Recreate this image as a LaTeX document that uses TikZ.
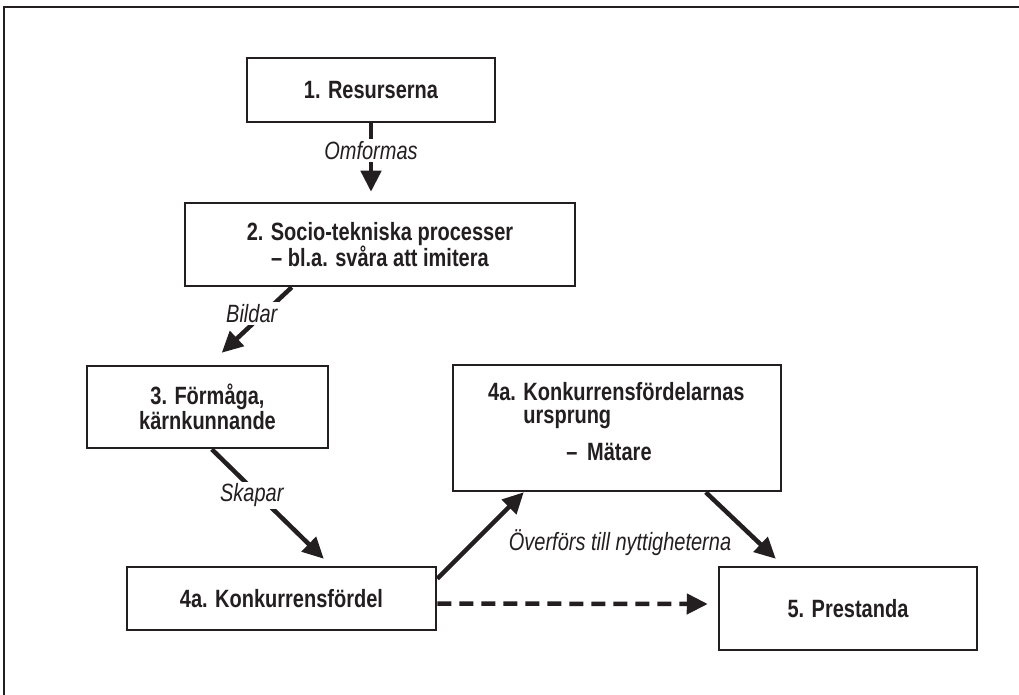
\documentclass[tikz,border=0pt]{standalone}
\usepackage{fontspec}
\setmainfont{Liberation Sans}[FakeStretch=0.8]
\usetikzlibrary{arrows.meta,calc}
\definecolor{ink}{RGB}{35,31,32}
\begin{document}
\begin{tikzpicture}[x=1pt,y=-1pt,
  box/.style={draw=ink,line width=2.5pt,fill=white,inner sep=0pt,align=center,
    font=\fontsize{25}{25}\selectfont\bfseries,text=ink},
  txt/.style={inner sep=0pt,font=\fontsize{25}{25}\selectfont\bfseries,text=ink},
  arr/.style={draw=ink,line width=4.5pt,-{Triangle[length=21pt,width=20pt]}},
  lbl/.style={font=\fontsize{25}{25}\selectfont\itshape,text=ink,fill=white,inner sep=2pt},
  plainlbl/.style={font=\fontsize{25}{25}\selectfont\itshape,text=ink,inner sep=0pt}]
\useasboundingbox (0,0) rectangle (1019,695);
\fill[white] (0,0) rectangle (1019,695);
\draw[ink,line width=2pt] (4,695) -- (4,7) -- (1019,7);

\node[box,minimum width=248pt,minimum height=64pt] (b1) at (371,90) {1. Resurserna};
\node[box,minimum width=390pt,minimum height=83pt] (b2) at (380,244.5) {2. Socio-tekniska processer\\– bl.a. svåra att imitera};
\node[box,minimum width=241pt,minimum height=82pt] (b3) at (207.5,407) {3. Förmåga,\\kärnkunnande};
\node[box,minimum width=309pt,minimum height=63pt] (b4) at (281.5,598.5) {4a. Konkurrensfördel};
\node[box,minimum width=328pt,minimum height=126pt] (b4o) at (617,428) {};
\node[txt,anchor=base west] (t4o) at (488,400) {\begin{tabular}[t]{@{}l@{ }l@{}}4a. & Konkurrensfördelarnas\\[-2pt] & ursprung\end{tabular}};
\node[txt,anchor=base] (t4m) at (609,460) {–\, Mätare};
\node[box,minimum width=258pt,minimum height=83pt] (b5) at (848,608.5) {5. Prestanda};

\draw[arr] (b1.south) -- node[lbl,pos=0.4]{Omformas} ($(b1.south |- b2.north)+(0,-10)$);
\draw[arr] ($(b2.south west)+(108,0)$) -- node[lbl,pos=0.4,xshift=-12pt]{Bildar} ($(b3.north west)+(136,-12)$);
\draw[arr] ($(b3.south west)+(126,0)$) -- node[lbl,pos=0.42,xshift=-7pt]{Skapar} ($(b4.north west)+(198,-7)$);
\draw[arr] ($(b4.north east)+(0,13)$) -- ($(b4o.south west)+(72,0)$);
\draw[arr] ($(b4o.south west)+(254,0)$) -- ($(b5.north west)+(58,-7)$);
\draw[arr,dash pattern=on 14pt off 8pt] ($(b4.east)+(0,5)$) -- ($(b5.west)+(-10,-4.5)$);
\node[plainlbl] (lo) at (620,543) {Överförs till nyttigheterna};
\end{tikzpicture}
\end{document}
